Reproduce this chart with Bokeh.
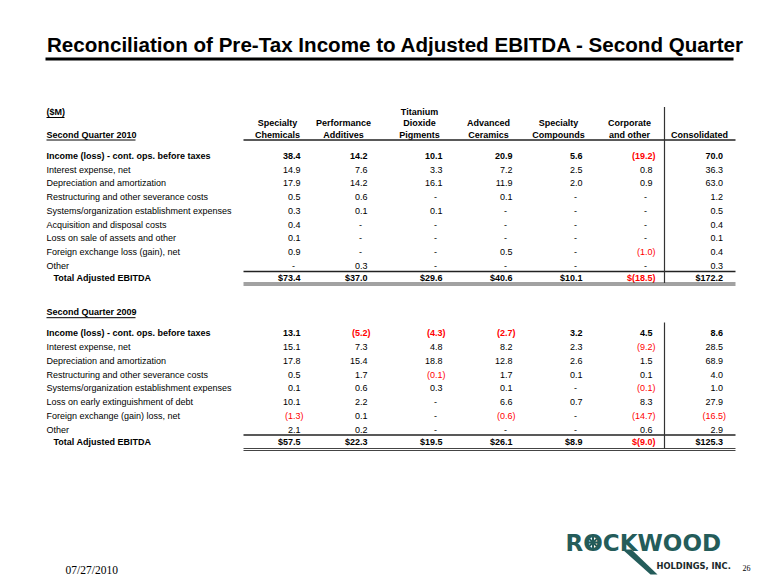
from bokeh.plotting import figure
from bokeh.models import Range1d, ColumnDataSource
from bokeh.embed import file_html
from bokeh.resources import INLINE
from bokeh.core.properties import value

# ---------------- data ----------------
title_text = "Reconciliation of Pre-Tax Income to Adjusted EBITDA - Second Quarter"
units_label = "($M)"
header_line1 = ["", "", "Titanium", "", "", "", ""]
header_line2 = ["Specialty", "Performance", "Dioxide", "Advanced", "Specialty", "Corporate", ""]
header_line3 = ["Chemicals", "Additives", "Pigments", "Ceramics", "Compounds", "and other", "Consolidated"]

section_2010 = "Second Quarter 2010"
labels_2010 = [
    "Income (loss) - cont. ops. before taxes",
    "Interest expense, net",
    "Depreciation and amortization",
    "Restructuring and other severance costs",
    "Systems/organization establishment expenses",
    "Acquisition and disposal costs",
    "Loss on sale of assets and other",
    "Foreign exchange loss (gain), net",
    "Other",
]
income_2010 = [38.4, 14.2, 10.1, 20.9, 5.6, -19.2, 70.0]
interest_2010 = [14.9, 7.6, 3.3, 7.2, 2.5, 0.8, 36.3]
depreciation_2010 = [17.9, 14.2, 16.1, 11.9, 2.0, 0.9, 63.0]
restructuring_2010 = [0.5, 0.6, None, 0.1, None, None, 1.2]
systems_2010 = [0.3, 0.1, 0.1, None, None, None, 0.5]
acquisition_2010 = [0.4, None, None, None, None, None, 0.4]
loss_sale_2010 = [0.1, None, None, None, None, None, 0.1]
fx_2010 = [0.9, None, None, 0.5, None, -1.0, 0.4]
other_2010 = [None, 0.3, None, None, None, None, 0.3]
total_2010 = [73.4, 37.0, 29.6, 40.6, 10.1, -18.5, 172.2]

section_2009 = "Second Quarter 2009"
labels_2009 = [
    "Income (loss) - cont. ops. before taxes",
    "Interest expense, net",
    "Depreciation and amortization",
    "Restructuring and other severance costs",
    "Systems/organization establishment expenses",
    "Loss on early extinguishment of debt",
    "Foreign exchange (gain) loss, net",
    "Other",
]
income_2009 = [13.1, -5.2, -4.3, -2.7, 3.2, 4.5, 8.6]
interest_2009 = [15.1, 7.3, 4.8, 8.2, 2.3, -9.2, 28.5]
depreciation_2009 = [17.8, 15.4, 18.8, 12.8, 2.6, 1.5, 68.9]
restructuring_2009 = [0.5, 1.7, -0.1, 1.7, 0.1, 0.1, 4.0]
systems_2009 = [0.1, 0.6, 0.3, 0.1, None, -0.1, 1.0]
debt_2009 = [10.1, 2.2, None, 6.6, 0.7, 8.3, 27.9]
fx_2009 = [-1.3, 0.1, None, -0.6, None, -14.7, -16.5]
other_2009 = [2.1, 0.2, None, None, None, 0.6, 2.9]
total_2009 = [57.5, 22.3, 19.5, 26.1, 8.9, -9.0, 125.3]

total_label = "Total Adjusted EBITDA"
footer_date = "07/27/2010"
page_number = "26"
logo_word = "ROCKWOOD"
logo_sub = "HOLDINGS, INC."

rows_2010 = [income_2010, interest_2010, depreciation_2010, restructuring_2010,
             systems_2010, acquisition_2010, loss_sale_2010, fx_2010, other_2010]
rows_2009 = [income_2009, interest_2009, depreciation_2009, restructuring_2009,
             systems_2009, debt_2009, fx_2009, other_2009]

# ---------------- layout ----------------
W, H = 776, 582
p = figure(width=W, height=H, output_backend="svg", toolbar_location=None,
           x_range=Range1d(0, W), y_range=Range1d(H, 0),
           min_border=0, background_fill_color="white", border_fill_color="white")
p.axis.visible = False
p.grid.visible = False
p.outline_line_color = None

SANS = value("Liberation Sans")
FS = "9px"
BLACK = "#000000"
RED = "#ff0000"

col_right = [300, 367, 442, 512, 582, 652, 722.5]
col_center = [277, 343, 419, 488, 558, 629, 699]
label_x = 46
total_x = 53


def fmt(v, money=False):
    if v is None:
        return "-"
    s = f"{abs(v):.1f}"
    if v < 0:
        s = "(" + s + ")"
    if money:
        s = "$" + s
    return s


def put_text(xs, ys, texts, colors=None, align="left", bold=False, size=FS, font=SANS):
    if colors is None:
        colors = [BLACK] * len(xs)
    src = ColumnDataSource(dict(x=xs, y=ys, t=texts, c=colors))
    p.text("x", "y", text="t", source=src, text_color="c", text_align=align,
           text_baseline="middle", text_font=font, text_font_size=size,
           text_font_style="bold" if bold else "normal")


def value_row(vals, y, bold=False, money=False):
    rx, ry, rt, rc = [], [], [], []
    dx, dy = [], []
    for i, v in enumerate(vals):
        if v is None:
            dx.append(col_right[i] - 7)
            dy.append(y)
        else:
            rx.append(col_right[i] + (3 if v < 0 else 0))
            ry.append(y)
            rt.append(fmt(v, money))
            rc.append(RED if v < 0 else BLACK)
    if rx:
        put_text(rx, ry, rt, rc, align="right", bold=bold)
    if dx:
        put_text(dx, dy, ["-"] * len(dx), align="center", bold=False)


def section(labels, rows, totals, y0, step, y_total, y_line, y_dbl, v_top, section_name, y_sec):
    put_text([label_x], [y_sec], [section_name], bold=True)
    p.segment(x0=[label_x], y0=[y_sec + 5.5], x1=[label_x + 89], y1=[y_sec + 5.5],
              line_color=BLACK, line_width=1)
    ys = [y0 + i * step for i in range(len(labels))]
    put_text([label_x], [ys[0]], [labels[0]], bold=True)
    put_text([label_x] * (len(labels) - 1), ys[1:], labels[1:])
    put_text([total_x], [y_total], [total_label], bold=True)
    for i, vals in enumerate(rows):
        value_row(vals, ys[i], bold=(i == 0))
    value_row(totals, y_total, bold=True, money=True)
    p.segment(x0=[243], y0=[y_line], x1=[735], y1=[y_line], line_color="#222222", line_width=1.3)
    p.segment(x0=[243, 243], y0=[y_dbl, y_dbl + 2], x1=[735, 735], y1=[y_dbl, y_dbl + 2],
              line_color="#444444", line_width=1)
    p.segment(x0=[664], y0=[v_top], x1=[664], y1=[y_dbl], line_color="#333333", line_width=1.2)


# title
put_text([46.5], [43.5], [title_text], bold=True, size="20.6px")
p.segment(x0=[45], y0=[58.5], x1=[733], y1=[58.5], line_color=BLACK, line_width=3)

# units
put_text([label_x], [111.5], [units_label], bold=True)
p.segment(x0=[label_x], y0=[117], x1=[label_x + 18], y1=[117], line_color=BLACK, line_width=1)

# headers
put_text(col_center, [111.5] * 7, header_line1, align="center", bold=True)
put_text(col_center, [122.8] * 7, header_line2, align="center", bold=True)
put_text(col_center, [134] * 7, header_line3, align="center", bold=True)
p.segment(x0=[243], y0=[139.5], x1=[735], y1=[139.5], line_color="#222222", line_width=1.3)

section(labels_2010, rows_2010, total_2010, 155.6, 13.68, 277.5, 271, 282.5, 106.5, section_2010, 134)
section(labels_2009, rows_2009, total_2009, 332.7, 13.8, 441.5, 434.5, 448, 322, section_2009, 311.7)

# footer
put_text([65], [569], [footer_date], size="11.5px", font=value("Liberation Serif"))
put_text([742], [567], [page_number], size="8px", font=value("Liberation Serif"))

# logo
LOGO = "#245c5a"
p.patch(x=[622, 631, 657, 650], y=[549, 549, 574, 574], color=LOGO, line_color=None)
put_text([565], [542], [logo_word], colors=[LOGO], bold=True, size="23px", font=value("DejaVu Sans"))
p.scatter(x=[592.5], y=[542], marker="asterisk", size=11, line_color=LOGO, line_width=2)
put_text([656], [565], [logo_sub], colors=["#1a2a2a"], bold=True, size="8.3px", font=value("DejaVu Sans"))

open("out.html", "w").write(file_html(p, INLINE))
